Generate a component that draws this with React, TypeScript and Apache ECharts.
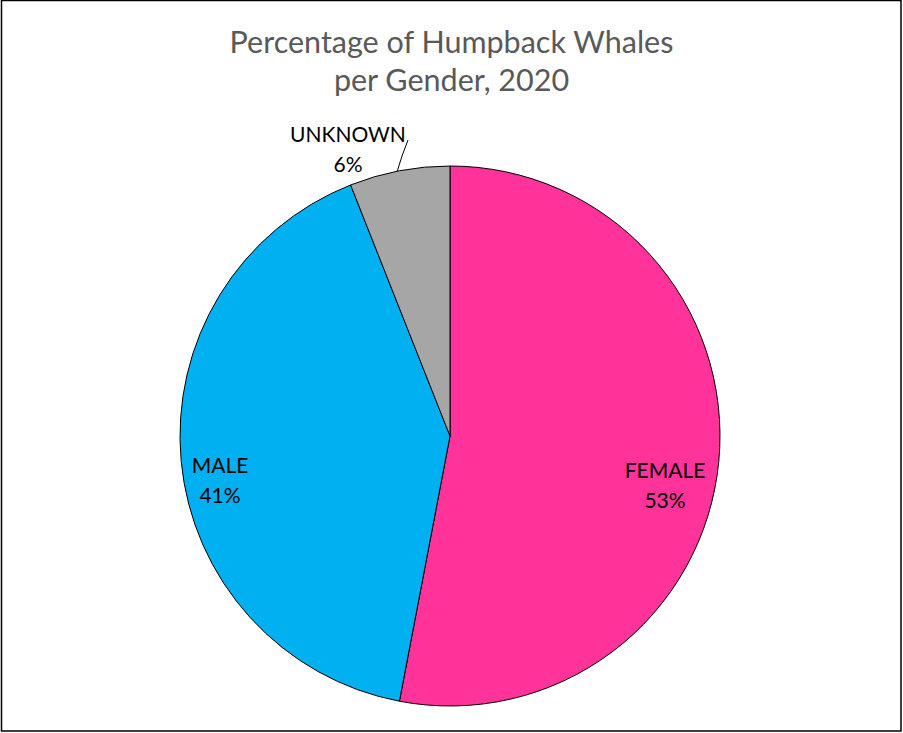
import React, { useEffect, useRef } from "react";
import * as echarts from "echarts";

// Share of humpback whales by gender, 2020 (percent)
const genders = ["FEMALE", "MALE", "UNKNOWN"];
const shares = [53, 41, 6];
const sliceColors = ["#FF3399", "#00B0F0", "#A6A6A6"];

const titleLines = ["Percentage of Humpback Whales", "per Gender, 2020"];

// Label anchor points (chart pixels) for each slice
const labelSpots: [number, number][] = [
  [665, 484],
  [220, 479],
  [348, 148],
];

const FONT = "Lato, 'Open Sans', sans-serif";

export default function App() {
  const ref = useRef<HTMLDivElement>(null);

  useEffect(() => {
    document.body.style.margin = "0";
    if (!ref.current) return;
    const chart = echarts.init(ref.current, null, { renderer: "svg" });

    chart.setOption({
      animation: false,
      backgroundColor: "#ffffff",
      title: {
        text: titleLines.join("\n"),
        left: "center",
        top: 17,
        textStyle: {
          color: "#595959",
          fontFamily: FONT,
          fontSize: 30.5,
          fontWeight: "normal",
          lineHeight: 38,
        },
      },
      graphic: [
        {
          type: "rect",
          shape: { x: 1.5, y: 0.5, width: 899.5, height: 730.5 },
          style: { fill: "none", stroke: "#000000", lineWidth: 1.5 },
          silent: true,
        },
      ],
      series: [
        {
          type: "pie",
          center: [450, 436],
          radius: [0, 270],
          startAngle: 90,
          clockwise: true,
          avoidLabelOverlap: false,
          itemStyle: { borderColor: "#000000", borderWidth: 1 },
          label: {
            show: true,
            formatter: "{b}\n{c}%",
            color: "#000000",
            fontFamily: FONT,
            fontSize: 21,
            lineHeight: 30,
            align: "center",
          },
          labelLine: {
            show: true,
            lineStyle: { color: "#000000", width: 1 },
          },
          labelLayout: (params: any) => {
            const [x, y] = labelSpots[params.dataIndex];
            const res: any = { x, y, align: "center", verticalAlign: "middle" };
            if (params.dataIndex === 2) {
              res.labelLinePoints = [
                [397, 172],
                [402, 156],
                [408, 140],
              ];
            }
            return res;
          },
          data: genders.map((name, i) => ({
            name,
            value: shares[i],
            itemStyle: { color: sliceColors[i] },
            labelLine: { show: i === 2 },
          })),
        },
      ],
    });

    return () => chart.dispose();
  }, []);

  return <div ref={ref} style={{ width: 903, height: 733 }} />;
}
